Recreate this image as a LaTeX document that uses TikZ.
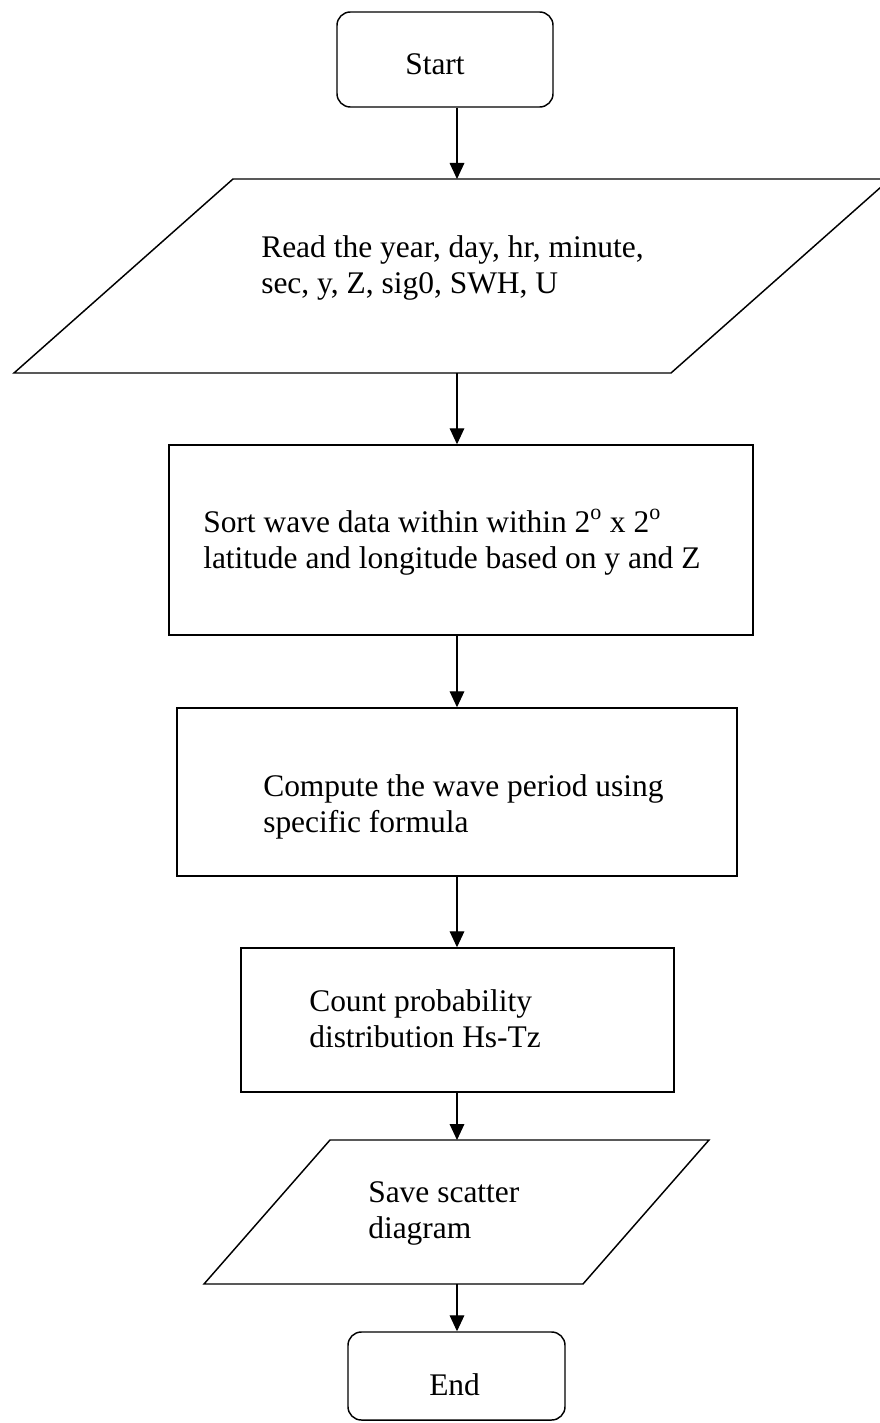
\documentclass[tikz,border=0pt]{standalone}
\usepackage{fontspec}
\setmainfont{Liberation Serif}
\usetikzlibrary{arrows.meta}
\begin{document}
\begin{tikzpicture}[x=0.75pt,y=-0.75pt,
  box/.style={draw, line width=1.1pt, inner sep=0pt},
  term/.style={box, rounded corners=10pt},
  lbl/.style={inner sep=0pt, anchor=base west, align=left,
              font=\fontsize{23.6pt}{27pt}\selectfont},
  arr/.style={line width=0.9pt, -{Triangle[length=12pt,width=11pt]}}]
\useasboundingbox (0,0) rectangle (879,1423);
\coordinate (ax) at (457,0);

% terminals and process boxes
\node[term, minimum width=162pt, minimum height=71.25pt] (start) at (445,59.5) {};
\node[box, minimum width=438pt, minimum height=142.5pt] (sort) at (461,540) {};
\node[box, minimum width=420pt, minimum height=126pt] (comp) at (457,792) {};
\node[box, minimum width=324.75pt, minimum height=108pt] (count) at (457.5,1020) {};
\node[term, minimum width=162.75pt, minimum height=66pt] (end) at (456.5,1376) {};

% input / output parallelograms
\coordinate (r1) at (233,179); \coordinate (r2) at (890,179);
\coordinate (r3) at (671,373); \coordinate (r4) at (14,373);
\draw[line width=1.1pt] (r1) -- (r2) -- (r3) -- (r4) -- cycle;
\coordinate (readtop) at (457,179); \coordinate (readbot) at (457,373);

\coordinate (s1) at (330,1140); \coordinate (s2) at (709,1140);
\coordinate (s3) at (583,1284); \coordinate (s4) at (204,1284);
\draw[line width=1.1pt] (s1) -- (s2) -- (s3) -- (s4) -- cycle;
\coordinate (savetop) at (457,1140); \coordinate (savebot) at (457,1284);

% texts (anchored at the baseline of the last line)
\node[lbl] (tstart) at (405,75) {Start};
\node[lbl] (tread) at (261,293) {Read the year, day, hr, minute,\\sec, y, Z, sig0, SWH, U};
\node[lbl] (tsort) at (203,568) {Sort wave data within within 2\textsuperscript{o} x 2\textsuperscript{o}\\latitude and longitude based on y and Z};
\node[lbl] (tcomp) at (263,832) {Compute the wave period using\\specific formula};
\node[lbl] (tcount) at (309,1047) {Count probability\\distribution Hs-Tz};
\node[lbl] (tsave) at (368,1238) {Save scatter\\diagram};
\node[lbl] (tend) at (429,1395) {End};

% connectors
\draw[arr] (start.south -| ax) -- (readtop);
\draw[arr] (readbot) -- (sort.north -| ax);
\draw[arr] (sort.south -| ax) -- (comp.north -| ax);
\draw[arr] (comp.south -| ax) -- (count.north -| ax);
\draw[arr] (count.south -| ax) -- (savetop);
\draw[arr] (savebot) -- (end.north -| ax);
\end{tikzpicture}
\end{document}
